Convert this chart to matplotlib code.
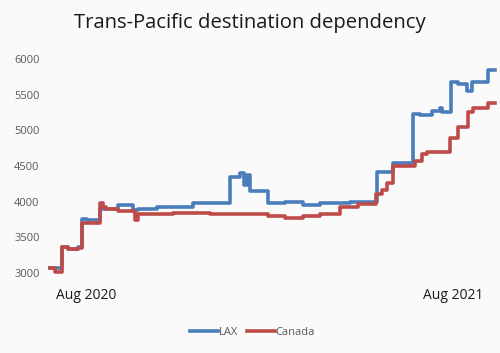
import matplotlib
matplotlib.use("Agg")
import matplotlib.pyplot as plt

# step breakpoints: day offset from series start, value at that day
lax_days = [0, 12, 18, 28, 32, 37, 50, 68, 83, 88, 107, 143, 180, 190, 194, 197, 200,
            218, 235, 253, 270, 292, 300, 327, 343, 363, 370, 382, 390, 392, 401, 408,
            417, 422, 438, 445]
lax_vals = [3075, 3370, 3330, 3360, 3750, 3740, 3890, 3955, 3880, 3900, 3925, 3980,
            4350, 4400, 4230, 4380, 4150, 3980, 3990, 3950, 3975, 3985, 3995, 4410,
            4540, 5225, 5210, 5270, 5305, 5250, 5670, 5645, 5550, 5670, 5850, 5850]

can_days = [0, 5, 12, 18, 28, 32, 50, 53, 56, 68, 85, 88, 123, 160, 200, 218, 235,
            253, 270, 290, 308, 326, 332, 337, 343, 365, 372, 377, 400, 408, 418, 423,
            438, 445]
can_vals = [3075, 3010, 3370, 3330, 3355, 3695, 3985, 3920, 3890, 3875, 3740, 3830,
            3840, 3830, 3825, 3795, 3765, 3795, 3825, 3920, 3965, 4105, 4170, 4255,
            4500, 4570, 4665, 4690, 4885, 5050, 5260, 5315, 5375, 5375]

tick_days = [36, 403]
tick_labels = ["Aug 2020", "Aug 2021"]
y_ticks = [3000, 3500, 4000, 4500, 5000, 5500, 6000]

plt.rcParams["font.family"] = ["Open Sans", "DejaVu Sans"]
bg = "#fafafa"

fig = plt.figure(figsize=(5.0, 3.53), dpi=100, facecolor=bg)
ax = fig.add_axes([0.096, 0.2164, 0.898, 0.627], facecolor=bg)

ax.step(lax_days, lax_vals, where="post", color="#4a7ebb", lw=2.6, label="LAX",
        solid_joinstyle="round")
ax.step(can_days, can_vals, where="post", color="#be4b48", lw=2.6, label="Canada",
        solid_joinstyle="round")

ax.set_xlim(-2, 447)
ax.set_ylim(2950, 6050)
ax.set_yticks(y_ticks)
ax.set_yticklabels([str(v) for v in y_ticks], fontsize=8, color="#595959")
ax.set_xticks(tick_days)
ax.set_xticklabels(tick_labels, fontsize=10, color="#1a1a1a")
ax.tick_params(axis="both", length=0)
ax.tick_params(axis="x", pad=8)
ax.tick_params(axis="y", pad=6)
for s in ax.spines.values():
    s.set_visible(False)

fig.text(0.5, 0.935, "Trans-Pacific destination dependency", ha="center", va="center",
         fontsize=14.6, color="#1a1a1a")

fig.legend(loc="center", bbox_to_anchor=(0.505, 0.057), ncol=2, frameon=False,
           fontsize=8, labelcolor="#595959", handlelength=2.5, handletextpad=0.1,
           columnspacing=0.8)

fig.savefig("out.png", dpi=100, facecolor=bg)
